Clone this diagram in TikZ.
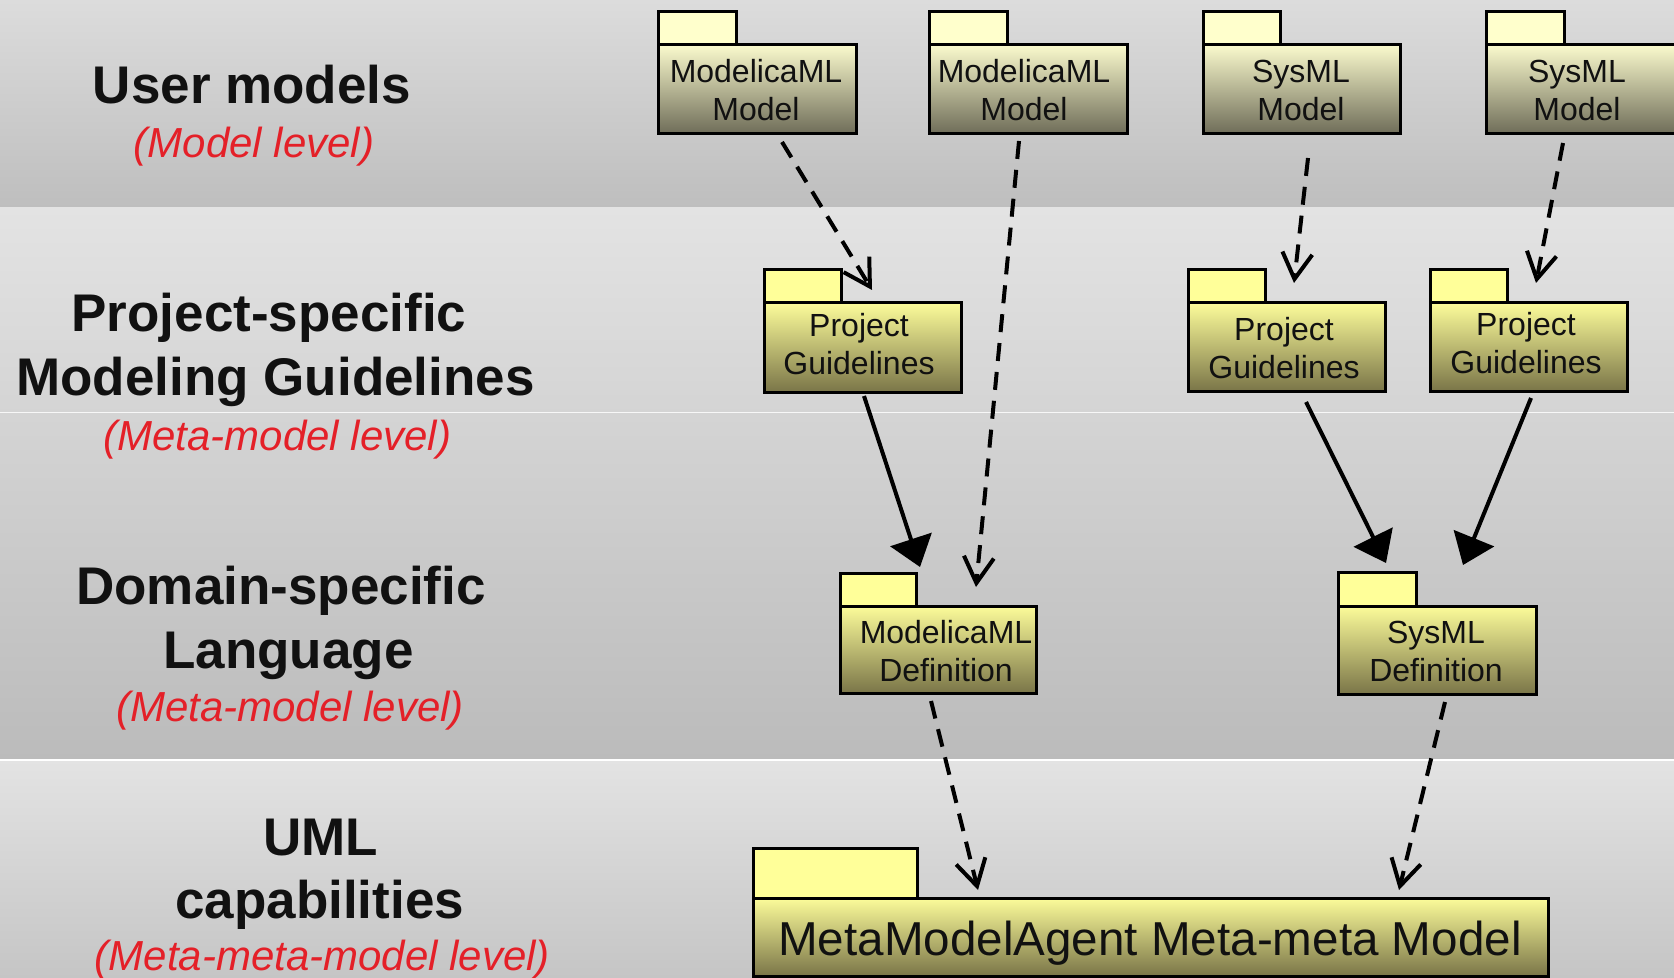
\documentclass[tikz,border=0pt]{standalone}
\usepackage{fontspec}
\setmainfont{Liberation Sans}
\usetikzlibrary{arrows.meta,calc}
\definecolor{bgA}{HTML}{DCDCDC}
\definecolor{bgB}{HTML}{BEBEBE}
\definecolor{bgC}{HTML}{E3E3E3}
\definecolor{bgD}{HTML}{BBBBBB}
\definecolor{bgE}{HTML}{C5C5C5}
\definecolor{upT}{HTML}{FAFACD}
\definecolor{upM}{HTML}{C8C6A0}
\definecolor{upB}{HTML}{6E6C58}
\definecolor{upTab}{HTML}{FFFFCC}
\definecolor{loT}{HTML}{FCFC9A}
\definecolor{loM}{HTML}{CBC77C}
\definecolor{loB}{HTML}{7A7548}
\definecolor{loTab}{HTML}{FFFF99}
\definecolor{txt}{HTML}{111111}
\definecolor{lvl}{RGB}{228,32,40}
\begin{document}
\begin{tikzpicture}[x=0.5pt,y=-0.5pt,
  pkgline/.style={draw=black, line width=1.5pt},
  upbody/.style={pkgline, anchor=north west, inner sep=0pt, outer sep=0pt,
    top color=upT, middle color=upM, bottom color=upB},
  lobody/.style={pkgline, anchor=north west, inner sep=0pt, outer sep=0pt,
    top color=loT, middle color=loM, bottom color=loB},
  uptab/.style={pkgline, fill=upTab},
  lotab/.style={pkgline, fill=loTab},
  pkgtext/.style={align=center, inner sep=0pt, text=txt, font=\fontsize{16}{19}\selectfont},
  bigtext/.style={inner sep=0pt, text=txt, font=\fontsize{23.8}{28}\selectfont},
  title/.style={inner sep=0pt, anchor=base, text=txt, font=\fontsize{26.5}{31}\selectfont\bfseries},
  level/.style={inner sep=0pt, anchor=base, text=lvl, font=\fontsize{21}{25}\selectfont\itshape},
  dep/.style={line width=2pt, dash pattern=on 9pt off 5.5pt,
    -{Straight Barb[length=13pt,width=15pt]}},
  gen/.style={line width=2pt, -{Triangle[length=14.5pt,width=21.5pt]}}
]
\useasboundingbox (0,0) rectangle (1674,978);
\clip (0,0) rectangle (1674,978);
% background bands
\shade[top color=bgA, bottom color=bgB] (0,0) rectangle (1674,208);
\shade[top color=bgC, bottom color=bgD] (0,208) rectangle (1674,760);
\shade[top color=bgC, bottom color=bgE] (0,760) rectangle (1674,978);
\draw[white!70!bgC, line width=0.5pt] (0,412) -- (1674,412);
\draw[white, line width=1pt] (0,760) -- (1674,760);

% left titles
\node[title] (t1a) at (252,104) {User models};
\node[level] (t1b) at (254,158) {(Model level)};
\node[title] (t2a) at (269,332) {Project-specific};
\node[title] (t2b) at (275.5,395) {Modeling Guidelines};
\node[level] (t2c) at (277.5,450) {(Meta-model level)};
\node[title] (t3a) at (281,604) {Domain-specific};
\node[title] (t3b) at (288.5,668) {Language};
\node[level] (t3c) at (290,721) {(Meta-model level)};
\node[title] (t4a) at (320.6,855) {UML};
\node[title] (t4b) at (319.6,918) {capabilities};
\node[level] (t4c) at (322.5,970) {(Meta-meta-model level)};

% user model packages
\draw[uptab] (658,12) rectangle (736,45);
\node[upbody, minimum width=99pt, minimum height=44.5pt] (p1) at (658,45) {};
\node[pkgtext] (p1t) at (756,90.5) {ModelicaML\\Model};
\draw[uptab] (929,12) rectangle (1007,45);
\node[upbody, minimum width=99pt, minimum height=44.5pt] (p2) at (929,45) {};
\node[pkgtext] (p2t) at (1024,90.5) {ModelicaML\\Model};
\draw[uptab] (1203,12) rectangle (1280,45);
\node[upbody, minimum width=98.5pt, minimum height=44.5pt] (p3) at (1203,45) {};
\node[pkgtext] (p3t) at (1301,90.5) {SysML\\Model};
\draw[uptab] (1486,12) rectangle (1564,45);
\node[upbody, minimum width=99pt, minimum height=44.5pt] (p4) at (1486,45) {};
\node[pkgtext] (p4t) at (1577,90.5) {SysML\\Model};

% project guideline packages
\draw[lotab] (764,270) rectangle (841,303);
\node[lobody, minimum width=98.5pt, minimum height=44.5pt] (g1) at (764,303) {};
\node[pkgtext] (g1t) at (859,344) {Project\\Guidelines};
\draw[lotab] (1188,270) rectangle (1265,303);
\node[lobody, minimum width=98.5pt, minimum height=44pt] (g2) at (1188,303) {};
\node[pkgtext] (g2t) at (1284,348) {Project\\Guidelines};
\draw[lotab] (1430,270) rectangle (1507,303);
\node[lobody, minimum width=98.5pt, minimum height=44pt] (g3) at (1430,303) {};
\node[pkgtext] (g3t) at (1526,343) {Project\\Guidelines};

% definition packages
\draw[lotab] (840,573) rectangle (916,606);
\node[lobody, minimum width=98pt, minimum height=43.5pt] (d1) at (840,606) {};
\node[pkgtext] (d1t) at (946,651.5) {ModelicaML\\Definition};
\draw[lotab] (1338,572) rectangle (1416,606);
\node[lobody, minimum width=99pt, minimum height=44pt] (d2) at (1338,606) {};
\node[pkgtext] (d2t) at (1436,651.5) {SysML\\Definition};

% meta-meta model package
\draw[lotab] (753,848) rectangle (917,898);
\node[lobody, minimum width=397.5pt, minimum height=39pt] (mm) at (753,898) {};
\node[bigtext, anchor=base] (mmt) at (1150,955) {MetaModelAgent Meta-meta Model};

% connector end points
\coordinate (a1s) at (782,142);  \coordinate (a1e) at (872,290);
\coordinate (a2s) at (1019,141); \coordinate (a2e) at (976,587);
\coordinate (a3s) at (1308,158); \coordinate (a3e) at (1294,283);
\coordinate (a4s) at (1563,143); \coordinate (a4e) at (1536,283);
\coordinate (s1s) at (864,396);  \coordinate (s1e) at (920,567);
\coordinate (s2s) at (1306,402); \coordinate (s2e) at (1386,563);
\coordinate (s3s) at (1531,398); \coordinate (s3e) at (1463,565);
\coordinate (a5s) at (931,701);  \coordinate (a5e) at (978,890);
\coordinate (a6s) at (1445,702); \coordinate (a6e) at (1399,890);

\draw[dep] (a1s) -- (a1e);
\draw[dep] (a2s) -- (a2e);
\draw[dep] (a3s) -- (a3e);
\draw[dep] (a4s) -- (a4e);
\draw[gen] (s1s) -- (s1e);
\draw[gen] (s2s) -- (s2e);
\draw[gen] (s3s) -- (s3e);
\draw[dep] (a5s) -- (a5e);
\draw[dep] (a6s) -- (a6e);
\end{tikzpicture}
\end{document}
